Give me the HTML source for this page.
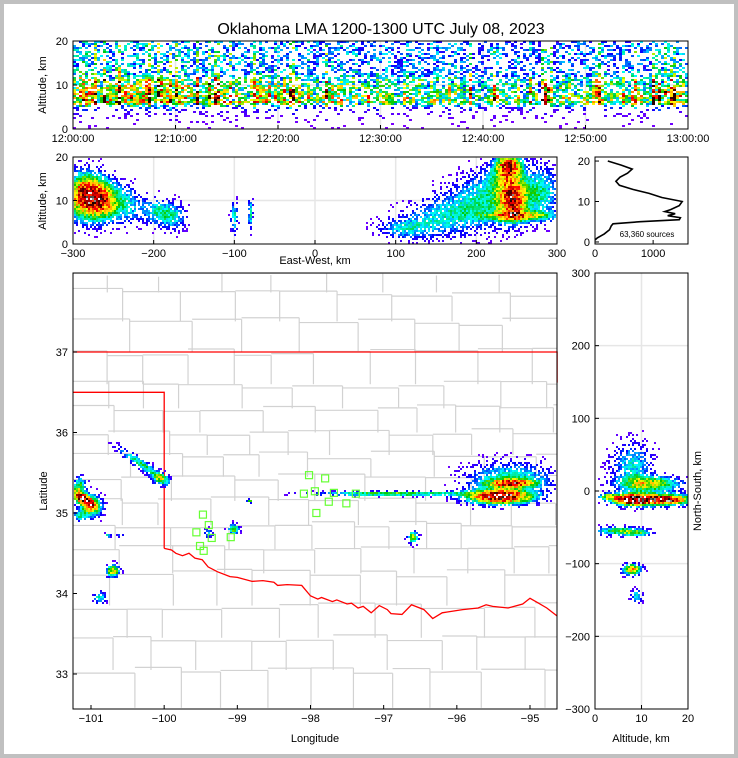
<!DOCTYPE html>
<html><head><meta charset="utf-8">
<style>
html,body{margin:0;padding:0;background:#c0c0c0;}
#wrap{position:absolute;left:4px;top:4px;width:730px;height:750px;background:#fff;}
svg{position:absolute;left:0;top:0;}
text{font-family:"Liberation Sans",sans-serif;fill:#000;}
</style></head>
<body>
<div id="wrap"></div>
<svg id="fig" width="738" height="758" viewBox="0 0 738 758">
<text x="381" y="34" font-size="16" text-anchor="middle">Oklahoma LMA 1200-1300 UTC July 08, 2023</text>
<g id="gTop"></g>
<g id="gEW"></g>
<g id="gHist"></g>
<g id="gMap"></g>
<g id="gNS"></g>
</svg>
<script>
// ---------- DATA ----------
const timeBins = [0,5,10,15,20,25,30,35,40,45,50,55,60];
const timeActivity = [0.9,1.0,0.9,0.8,0.85,0.8,0.75,0.8,0.75,0.7,0.75,0.8,0.8];
const profileAlt = [0,2,3,4,5,6,8,10,12,14,16,18,20];
const profileVal = [0,0.04,0.07,0.1,0.25,0.7,0.65,0.55,0.45,0.38,0.38,0.38,0.33];
// east-west blobs (km, km)
const ewX = [-285,-262,-235,-195,-175,-100,-80,110,150,200,240,245,255,280,230];
const ewZ = [11,10,9,7.5,6,6,7,3.5,6,9,18,10,6.5,12,14];
const ewSx = [16,12,15,14,12,3,2,22,28,28,11,12,30,16,20];
const ewSz = [3.5,3,3,2,2,2.5,2.5,1.6,3,4,2.2,3.2,0.8,4,3];
const ewAmp = [0.9,0.55,0.3,0.3,0.25,0.35,0.35,0.25,0.25,0.3,0.8,0.8,0.5,0.35,0.25];
// histogram profile
const histAlt = [0.5,1,1.5,2,3,4,4.5,5,5.5,6,6.5,7,7.5,8,9,10,11,12,13,14,15,16,17,18,19,20];
const histCount = [0,40,100,160,250,280,310,780,1450,1470,1250,1380,1200,1300,1450,1500,1150,930,650,420,360,430,560,640,450,220];
const sourceCount = "63,360 sources";
// plan-view blobs (lon, lat)
const mapLon = [-101.12,-100.98,-100.3,-100.05,-101.15,-100.77,-100.6,-100.7,-100.88,-99.05,-98.82,-96.85,-95.41,-95.25,-95.27,-96.6,-99.4,-101.15];
const mapLat = [35.18,35.08,35.6,35.42,34.97,34.72,34.72,34.28,33.95,34.8,35.15,35.24,35.2,35.37,35.43,34.7,34.75,35.35];
const mapSx = [0.12,0.09,0.27,0.08,0.06,0.03,0.03,0.06,0.06,0.05,0.03,0.7,0.3,0.22,0.4,0.05,0.05,0.06];
const mapSy = [0.05,0.09,0.04,0.05,0.05,0.02,0.015,0.05,0.05,0.04,0.015,0.02,0.06,0.035,0.14,0.05,0.04,0.07];
const mapAng = [35,30,35,15,0,0,0,0,0,0,0,0,0,0,0,0,0,0];
const mapAmp = [1.0,0.55,0.4,0.4,0.35,0.35,0.3,0.65,0.35,0.55,0.5,0.5,1.0,0.65,0.35,0.55,0.25,0.4];
// green station markers
const staLon = [-98.02,-97.8,-98.09,-97.94,-97.92,-97.68,-97.75,-97.51,-97.38,-99.47,-99.39,-99.56,-99.35,-99.51,-99.46,-99.09];
const staLat = [35.47,35.43,35.24,35.27,35.0,35.25,35.14,35.12,35.24,34.98,34.85,34.76,34.69,34.59,34.53,34.7];
// north-south blobs (alt km, ns km)
const nsZ = [8,13,12,8,5,9,8,9,3,16];
const nsY = [-12,-12,10,35,-55,-58,-108,-145,-8,-12];
const nsSx = [2.5,5,4.5,3,3.5,2,1.3,0.8,1.3,3];
const nsSy = [5,6,7,22,4,3,5,6,3,4];
const nsAmp = [1.0,0.65,0.55,0.3,0.45,0.35,0.75,0.35,0.55,0.5];
// Oklahoma border (red) in lon/lat
const okLon = [-101.25,-94.63,-94.63];
const okLat = [37.0,37.0,36.62];
const panLon = [-101.25,-100.0,-100.0];
const panLat = [36.5,36.5,34.56];
const rrLon = [-100.0,-99.9,-99.84,-99.75,-99.66,-99.58,-99.48,-99.4,-99.27,-99.1,-99.0,-98.8,-98.65,-98.5,-98.45,-98.32,-98.12,-98.0,-97.9,-97.85,-97.7,-97.64,-97.5,-97.44,-97.35,-97.28,-97.17,-97.06,-96.95,-96.9,-96.75,-96.62,-96.45,-96.33,-96.2,-96.13,-95.92,-95.71,-95.6,-95.51,-95.3,-95.1,-95.0,-94.9,-94.77,-94.63];
const rrLat = [34.56,34.54,34.5,34.47,34.5,34.44,34.42,34.33,34.27,34.21,34.2,34.15,34.16,34.14,34.1,34.11,34.1,33.97,33.93,33.95,33.9,33.92,33.87,33.88,33.82,33.84,33.76,33.85,33.8,33.75,33.74,33.86,33.8,33.69,33.76,33.77,33.8,33.82,33.86,33.84,33.82,33.87,33.94,33.89,33.82,33.72];

// ---------- helpers ----------
const NS='http://www.w3.org/2000/svg';
function mk(tag,attrs,parent){const e=document.createElementNS(NS,tag);for(const k in attrs)e.setAttribute(k,attrs[k]);parent.appendChild(e);return e;}
function lin(d0,d1,r0,r1){return v=>r0+(v-d0)/(d1-d0)*(r1-r0);}
function interp(xs,ys,x){if(x<=xs[0])return ys[0];for(let i=1;i<xs.length;i++){if(x<=xs[i]){const t=(x-xs[i-1])/(xs[i]-xs[i-1]);return ys[i-1]+t*(ys[i]-ys[i-1]);}}return ys[ys.length-1];}
function hsh(i,j,s){let h=(i*374761393+j*668265263+s*982451653)|0;h=(h^(h>>>13))*1274126177|0;h=h^(h>>>16);return (h>>>0)/4294967296;}
const stops=[[0,[128,0,255]],[0.12,[0,0,255]],[0.25,[0,255,255]],[0.38,[0,200,0]],[0.5,[255,255,0]],[0.6,[255,165,0]],[0.7,[255,0,0]],[0.82,[150,0,0]],[0.9,[0,0,0]],[0.95,[130,130,130]],[1,[255,255,255]]];
function cmap(v){v=Math.max(0,Math.min(1,v));for(let i=1;i<stops.length;i++){if(v<=stops[i][0]){const a=stops[i-1],b=stops[i];const t=(v-a[0])/(b[0]-a[0]);const c=a[1].map((x,k)=>Math.round(x+t*(b[1][k]-x)));return 'rgb('+c.join(',')+')';}}return '#fff';}
function frame(g,x,y,w,h,name){const r=mk('rect',{x:x,y:y,width:w,height:h,fill:'none',stroke:'#000','stroke-width':1},g);}
function grid(g,x1,y1,x2,y2){const l=mk('line',{x1:x1,y1:y1,x2:x2,y2:y2,stroke:'#e6e6e6','stroke-width':1.5},g);}
function tickLabel(g,x,y,txt,anchor,name){const t=mk('text',{x:x,y:y,'font-size':11,'text-anchor':anchor},g);t.textContent=txt;return t;}
function label(g,x,y,txt,rot,name){const t=mk('text',{x:x,y:y,'font-size':11,'text-anchor':'middle'},g);if(rot)t.setAttribute('transform','rotate('+rot+' '+x+' '+y+')');t.textContent=txt;}
function tick(g,x1,y1,x2,y2){const l=mk('line',{x1:x1,y1:y1,x2:x2,y2:y2,stroke:'#000','stroke-width':1},g);}
function blobField(cx,cy,sx,sy,ang,amp,sx2px,sy2px,X,Y,box,cell,g,seed){
  const cells=new Map();
  for(let b=0;b<cx.length;b++){
    const px=X(cx[b]),py=Y(cy[b]),rx=Math.max(1,Math.abs(sx2px(sx[b]))),ry=Math.max(1,Math.abs(sy2px(sy[b])));
    const R=3*Math.max(rx,ry);
    const a=(ang?ang[b]:0)*Math.PI/180,ca=Math.cos(a),sa=Math.sin(a);
    const i0=Math.floor(Math.max(box[0],px-R)/cell),i1=Math.ceil(Math.min(box[2],px+R)/cell);
    const j0=Math.floor(Math.max(box[1],py-R)/cell),j1=Math.ceil(Math.min(box[3],py+R)/cell);
    for(let i=i0;i<i1;i++)for(let j=j0;j<j1;j++){
      const dx=i*cell+cell/2-px,dy=j*cell+cell/2-py;
      const u=(dx*ca+dy*sa)/rx,v=(-dx*sa+dy*ca)/ry;
      const d=amp[b]*Math.exp(-(u*u+v*v)/2);
      const k=i+','+j;cells.set(k,(cells.get(k)||0)+d);
    }
  }
  cells.forEach((d,k)=>{
    const [i,j]=k.split(',').map(Number);
    if(i*cell<box[0]||i*cell+cell>box[2]||j*cell<box[1]||j*cell+cell>box[3])return;
    const p=Math.min(1,d*3);
    if(hsh(i,j,seed)>p||d<0.02)return;
    let v=Math.min(1,d)*(0.65+0.4*hsh(i,j,seed+7));
    if(d<0.95)v=Math.min(v,0.86);
    const r=mk('rect',{x:i*cell,y:j*cell,width:cell,height:cell,fill:cmap(v)},g);
    
    
  });
}

// ---------- TOP time-height ----------
(function(){
  const g=document.getElementById('gTop');
  const L=73,T=41,R=688,B=129;
  const X=lin(0,60,L,R),Y=lin(0,20,B,T);
  for(let m=10;m<60;m+=10)grid(g,X(m),T,X(m),B);
  grid(g,L,Y(10),R,Y(10));
  const cw=3,ch=2;
  for(let x=L;x<R;x+=cw){
    const t=(x-L+cw/2)/(R-L)*60;
    const act=interp(timeBins,timeActivity,t);
    const hc=hsh(x,1,3);
    const colf=hc>0.85?1.6:(0.6+0.6*hc);
    for(let y=T;y<B;y+=ch){
      const z=(B-y-ch/2)/(B-T)*20;
      let pr=interp(profileAlt,profileVal,z);
      let d=act*pr*colf;
      if(hsh(x,y,5)>Math.min(1,act*pr*1.4+0.04*(z<5?1:0)))continue;
      const v=Math.min(0.88,d*(0.4+0.8*hsh(x,y,9))*(z>5&&z<12?1.1:0.85));
      const r=mk('rect',{x:x,y:y,width:cw,height:ch,fill:cmap(v)},g);
      
      
    }
  }
  frame(g,L,T,R-L,B-T,'time-height-frame');
  [0,10,20].forEach(v=>{tick(g,L,Y(v),L+4,Y(v));tickLabel(g,L-5,Y(v)+4,String(v),'end','y-tick-label');});
  const tl=['12:00:00','12:10:00','12:20:00','12:30:00','12:40:00','12:50:00','13:00:00'];
  tl.forEach((s,i)=>{tick(g,X(i*10),B,X(i*10),B-4);tickLabel(g,X(i*10),B+13,s,'middle','time-tick-label');});
  label(g,46,85,'Altitude, km',-90,'y-axis-title');
})();

// ---------- EW ----------
(function(){
  const g=document.getElementById('gEW');
  const L=73,T=157,R=557,B=244;
  const X=lin(-300,300,L,R),Y=lin(0,20,B,T);
  for(let v=-200;v<=200;v+=100)grid(g,X(v),T,X(v),B);
  grid(g,L,Y(10),R,Y(10));
  blobField(ewX,ewZ,ewSx,ewSz,null,ewAmp,v=>v*(R-L)/600,v=>v*(B-T)/20,X,Y,[L+1,T+1,R,B],2,g,11);
  frame(g,L,T,R-L,B-T,'east-west-frame');
  [0,10,20].forEach(v=>{tick(g,L,Y(v),L+4,Y(v));tickLabel(g,L-5,Y(v)+4,String(v),'end','y-tick-label');});
  [-300,-200,-100,0,100,200,300].forEach(v=>{tick(g,X(v),B,X(v),B-4);tickLabel(g,X(v),B+13,String(v).replace('-','\u2212'),'middle','x-tick-label');});
  label(g,46,201,'Altitude, km',-90,'y-axis-title');
  label(g,315,264,'East-West, km',0,'x-axis-title');
})();

// ---------- Histogram ----------
(function(){
  const g=document.getElementById('gHist');
  const L=595,T=157,R=688,B=244;
  const X=lin(0,1600,L,R),Y=lin(-0.5,21,B,T);
  frame(g,L,T,R-L,B-T,'histogram-frame');
  let d='';histAlt.forEach((a,i)=>{d+=(i?'L':'M')+X(histCount[i]).toFixed(1)+' '+Y(a).toFixed(1);});
  const p=mk('path',{d:d,fill:'none',stroke:'#000','stroke-width':1.6},g);
  
  [0,10,20].forEach(v=>{tick(g,L,Y(v),L+4,Y(v));tickLabel(g,L-5,Y(v)+4,String(v),'end','y-tick-label');});
  [0,1000].forEach(v=>{tick(g,X(v),B,X(v),B-4);tickLabel(g,X(v),B+13,String(v),'middle','x-tick-label');});
  const t=mk('text',{x:647,y:237,'font-size':8,'text-anchor':'middle'},g);t.textContent=sourceCount;
  
})();

// ---------- MAP ----------
(function(){
  const g=document.getElementById('gMap');
  const L=73,T=273,R=557,B=709;
  const X=lin(-101,-95,91,530),Y=lin(37,33,352,674);
  const cg=mk('g',{fill:'none',stroke:'#d2d2d2','stroke-width':1.2},g);
  
  const rows=[37.98,37.74,37.38,37.0,36.6,36.3,36.0,35.72,35.45,35.15,34.85,34.55,34.25,33.85,33.45,33.05,32.58];
  for(let r=0;r<rows.length-1;r++){
    const y0=Y(rows[r]),y1=Y(rows[r+1]);
    let x=L;let k=0;
    while(x<R){
      const w=34+hsh(r,k,21)*30;
      const xx=Math.min(R,x+w);
      const dy=(hsh(r,k,22)-0.5)*8;
      mk('line',{x1:x,y1:y0+dy*(r>0?1:0),x2:xx,y2:y0+dy*(r>0?1:0)},cg);
      if(xx<R)mk('line',{x1:xx,y1:y0+dy,x2:xx,y2:y1},cg);
      x=xx;k++;
    }
  }
  function redLine(lo,la,name){let d='';lo.forEach((v,i)=>{d+=(i?'L':'M')+X(v).toFixed(1)+' '+Y(la[i]).toFixed(1);});const p=mk('path',{d:d,fill:'none',stroke:'#ff0000','stroke-width':1.3},g);}
  redLine(okLon,okLat,'oklahoma-north-border');
  redLine(panLon,panLat,'oklahoma-panhandle-border');
  redLine(rrLon,rrLat,'red-river-border');
  const dg=mk('g',{},g);
  blobField(mapLon,mapLat,mapSx,mapSy,mapAng,mapAmp,v=>v*73.17,v=>v*80.5,X,Y,[L+1,T+1,R,B],2,dg,31);
  staLon.forEach((lo,i)=>{const r=mk('rect',{x:X(lo)-3.5,y:Y(staLat[i])-3.5,width:7,height:7,fill:'none',stroke:'#66ff33','stroke-width':1.2},g);});
  frame(g,L,T,R-L,B-T,'map-frame');
  [-101,-100,-99,-98,-97,-96,-95].forEach(v=>{tick(g,X(v),B,X(v),B-4);tickLabel(g,X(v),B+13,String(v).replace('-','\u2212'),'middle','longitude-tick-label');});
  [33,34,35,36,37].forEach(v=>{tick(g,L,Y(v),L+4,Y(v));tickLabel(g,L-5,Y(v)+4,String(v),'end','latitude-tick-label');});
  label(g,315,742,'Longitude',0,'x-axis-title');
  label(g,47,491,'Latitude',-90,'y-axis-title');
})();

// ---------- NS ----------
(function(){
  const g=document.getElementById('gNS');
  const L=595,T=273,R=688,B=709;
  const X=lin(0,20,L,R),Y=lin(-300,300,B,T);
  grid(g,X(10),T,X(10),B);
  for(let v=-200;v<=200;v+=100)grid(g,L,Y(v),R,Y(v));
  blobField(nsZ,nsY,nsSx,nsSy,null,nsAmp,v=>v*(R-L)/20,v=>v*(B-T)/600,X,Y,[L+1,T+1,R,B],2,g,41);
  frame(g,L,T,R-L,B-T,'north-south-frame');
  [-300,-200,-100,0,100,200,300].forEach(v=>{tick(g,L,Y(v),L+4,Y(v));tickLabel(g,L-5,Y(v)+4,String(v).replace('-','\u2212'),'end','y-tick-label');});
  [0,10,20].forEach(v=>{tick(g,X(v),B,X(v),B-4);tickLabel(g,X(v),B+13,String(v),'middle','x-tick-label');});
  label(g,641,742,'Altitude, km',0,'x-axis-title');
  label(g,701,491,'North-South, km',-90,'y-axis-title');
})();
</script>
</body></html>
